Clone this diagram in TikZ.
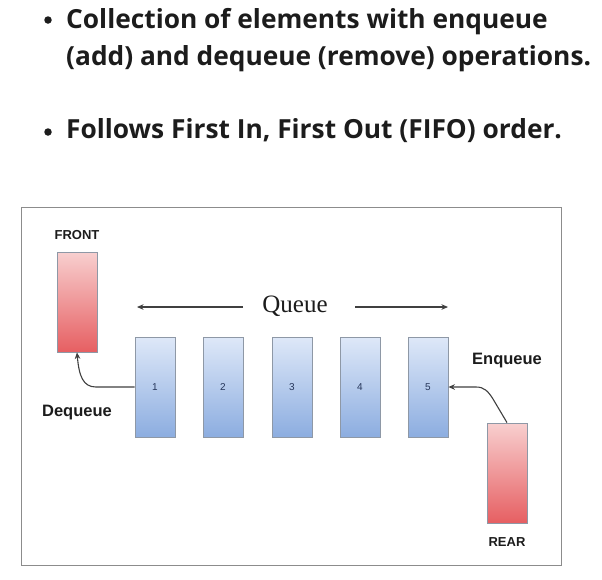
\documentclass[tikz,border=0pt]{standalone}
\usepackage{fontspec}
\setmainfont{Open Sans}
\newfontfamily\arialf{Liberation Sans}
\newfontfamily\timesf{Liberation Serif}
\usetikzlibrary{arrows.meta}
\definecolor{txt}{HTML}{1C1C1C}
\definecolor{framec}{HTML}{8C8C8C}
\definecolor{bluetop}{HTML}{DEE8F8}
\definecolor{bluebot}{HTML}{8CADE0}
\definecolor{redtop}{HTML}{F8CFCF}
\definecolor{redbot}{HTML}{E65F62}
\definecolor{boxline}{HTML}{8E98A6}
\definecolor{numc}{HTML}{26365A}
\tikzset{
  bullettext/.style={anchor=base west, inner sep=0pt, text=txt, font=\fontsize{26.3}{26.3}\selectfont\bfseries},
  bulletdot/.style={circle, fill=txt, inner sep=0pt, minimum size=7.5pt},
  cell/.style={draw=boxline, line width=0.8pt, minimum width=40pt, minimum height=100pt, inner sep=0pt,
    top color=bluetop, bottom color=bluebot, text=numc, font=\arialf\fontsize{10}{10}\selectfont},
  endcell/.style={draw=boxline, line width=0.8pt, minimum width=40pt, minimum height=100pt, inner sep=0pt,
    top color=redtop, bottom color=redbot},
  lbl/.style={inner sep=0pt, text=txt, font=\arialf\bfseries\fontsize{16.5}{16.5}\selectfont},
  smalllbl/.style={inner sep=0pt, text=txt, font=\arialf\bfseries\fontsize{13}{13}\selectfont},
  conn/.style={draw=black!75, line width=1.1pt, -{Stealth[length=6.5pt,width=5.5pt]}},
}
\begin{document}
\begin{tikzpicture}[x=1pt,y=-1pt]
\useasboundingbox (0,0) rectangle (602,579);
\fill[white] (0,0) rectangle (602,579);
% bullets
\node[bulletdot] (b1) at (48,20) {};
\node[bullettext] (t1) at (66,28) {Collection of elements with enqueue};
\node[bullettext] (t2) at (66,65) {(add) and dequeue (remove) operations.};
\node[bulletdot] (b2) at (48,132) {};
\node[bullettext] (t3) at (66,138) {Follows First In, First Out (FIFO) order.};
% frame
\draw[framec, line width=1pt] (21,207) rectangle (561,565);
% front / rear
\node[smalllbl] (frontl) at (77,235) {FRONT};
\node[endcell] (front) at (77,302) {};
\node[endcell] (rear) at (507,473) {};
\node[smalllbl] (rearl) at (507,542) {REAR};
% queue cells
\node[cell] (c1) at (155,387) {1};
\node[cell] (c2) at (223,387) {2};
\node[cell] (c3) at (292,387) {3};
\node[cell] (c4) at (360,387) {4};
\node[cell] (c5) at (428,387) {5};
% queue label and arrows
\node[inner sep=0pt, text=txt, font=\timesf\fontsize{25}{25}\selectfont] (q) at (295,306) {Queue};
\coordinate (la) at (243,307);
\coordinate (lb) at (137,307);
\coordinate (ra) at (355,307);
\coordinate (rb) at (448,307);
\draw[conn] (la) -- (lb);
\draw[conn] (ra) -- (rb);
% labels
\node[lbl] (deq) at (77,413) {Dequeue};
\node[lbl] (enq) at (507,361) {Enqueue};
% dequeue connector
\draw[conn] (c1.west) -- (96,387) .. controls (83,387) and (79,376) .. (front.south);
% enqueue connector
\draw[conn] (rear.north) -- (493,399) .. controls (488,391) and (484,387) .. (476,387) -- (c5.east);
\end{tikzpicture}
\end{document}
